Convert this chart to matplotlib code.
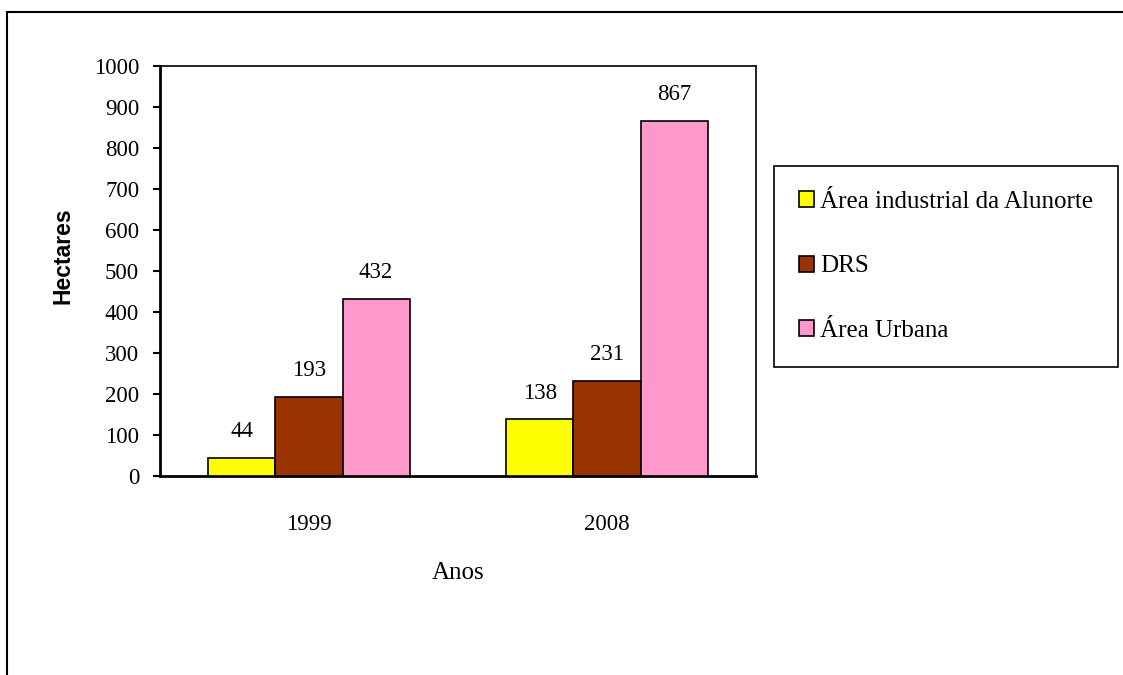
import matplotlib
matplotlib.use("Agg")
import matplotlib.pyplot as plt
from matplotlib.patches import Rectangle
import numpy as np

# dados
anos = ["1999", "2008"]
series = ["Área industrial da Alunorte", "DRS", "Área Urbana"]
industrial = [44, 138]
drs = [193, 231]
urbana = [432, 867]
cores = ["#FFFF00", "#993300", "#FF99CC"]

plt.rcParams['font.family'] = ['Liberation Serif', 'DejaVu Serif']

fig = plt.figure(figsize=(11.23, 6.75), dpi=100)
W, H = 1123, 675
ax = fig.add_axes([160 / W, 1 - 476 / H, (756 - 160) / W, (476 - 66) / H])

x = np.arange(len(anos))
larg = 0.225
valores = [industrial, drs, urbana]
for i, (nome, vals, cor) in enumerate(zip(series, valores, cores)):
    barras = ax.bar(x + (i - 1) * larg, vals, larg, color=cor, edgecolor='black',
                    linewidth=1.2, label=nome, zorder=3)
    for b, v in zip(barras, vals):
        ax.annotate(str(v), (b.get_x() + b.get_width() / 2, v), xytext=(0, 19),
                    textcoords='offset points', ha='center', va='center', fontsize=16.5)

ax.set_xlim(-0.5, 1.5)
ax.set_ylim(0, 1000)
ax.set_yticks(range(0, 1001, 100))
ax.set_xticks(x)
ax.set_xticklabels(anos)
ax.tick_params(axis='x', length=0, pad=27, labelsize=16.5)
ax.tick_params(axis='y', length=5, width=1.5, pad=10, labelsize=16.5, direction='out')
for s in ['left', 'bottom']:
    ax.spines[s].set_linewidth(2)
for s in ['top', 'right']:
    ax.spines[s].set_linewidth(1.2)

fig.text(63 / W, 1 - 256 / H, "Hectares", rotation=90, ha='center', va='center',
         fontsize=16.5, fontweight='bold', family=['Liberation Sans', 'DejaVu Sans'])
fig.text(458 / W, 1 - 573 / H, "Anos", ha='center', va='center', fontsize=18)

leg = ax.legend(loc='upper left', bbox_to_anchor=(774 / W, 1 - 166 / H),
                bbox_transform=fig.transFigure, fontsize=18, frameon=True,
                fancybox=False, framealpha=1, edgecolor='black', borderaxespad=0,
                handlelength=0.6, handleheight=0.6, handletextpad=0.25,
                labelspacing=1.7, borderpad=1.0)
leg.get_frame().set_linewidth(1.2)

# moldura externa
fig.patches.append(Rectangle((7 / W, -0.1), 1.2, 1 - 12 / H + 0.1, transform=fig.transFigure,
                             fill=False, edgecolor='black', linewidth=1.5))

fig.savefig("out.png", dpi=100)
